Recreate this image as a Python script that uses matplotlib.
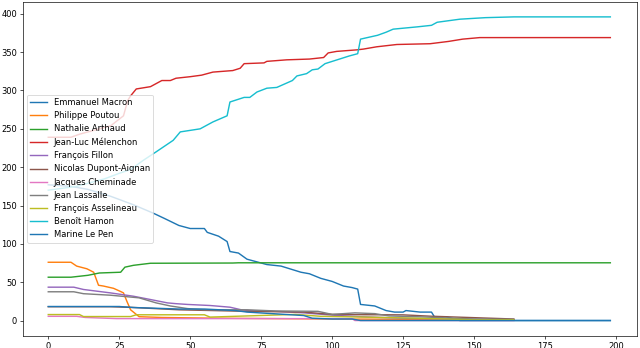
import matplotlib
matplotlib.use("Agg")
import matplotlib.pyplot as plt

# readings taken off the chart: (round, votes) breakpoints for each candidate
macron_x = [0, 8, 14, 22, 30, 37, 41, 46, 50, 55, 56, 60, 63, 64, 67, 70, 73, 77, 82, 89, 92, 96, 100, 104, 107, 109, 110, 115, 119, 122, 125, 126, 131, 135, 136, 140, 145, 198]
macron_y = [177, 175, 171, 162, 151, 140, 133, 124, 120, 120, 115, 110, 103, 90, 88, 80, 77, 73, 71, 63, 61, 55, 51, 45, 43, 41, 21, 19, 13, 11, 11, 13, 11, 11, 5, 5, 0, 0]

poutou_x = [0, 8, 10, 13.6, 16, 17.7, 19.4, 23, 25.4, 26.5, 27.7, 29, 31, 32, 40, 60, 100, 164]
poutou_y = [76, 76, 71, 67.5, 63, 46, 45, 42, 38, 36, 25, 14, 8, 5, 4, 3, 2, 1]

arthaud_x = [0, 8, 14, 18, 25.5, 27, 30, 36, 65, 67, 198]
arthaud_y = [56.5, 56.5, 59, 62, 63, 69.6, 72, 74.7, 75, 75.3, 75.3]

melenchon_x = [0, 8, 11, 16, 22, 26.5, 28, 29, 31, 36, 38, 40, 43, 45, 50, 54, 58, 65, 67.6, 69, 76, 77, 84, 92, 97, 98.6, 101.6, 108.7, 111, 115.7, 122.8, 134.5, 141, 146, 152, 198]
melenchon_y = [239, 239, 243, 248, 254, 267, 287, 293, 302, 305, 309, 313, 313, 316, 318, 320, 324, 326, 329, 335, 336, 338, 340, 341, 343, 349, 351, 353, 354, 357, 360, 361, 364, 367, 369, 369]

fillon_x = [0, 9, 12.4, 22, 30, 36, 42, 45, 49, 57, 64, 68, 71, 80, 90, 100, 110, 125, 140, 164]
fillon_y = [43.5, 43.5, 40.5, 36, 31.7, 27.4, 23, 22, 21, 19.6, 17.4, 14, 13, 12, 10, 7, 5, 3, 2, 1]

dupont_x = [0, 22, 30, 46, 70, 90, 100, 111, 125, 135, 164]
dupont_y = [18, 18, 17, 14, 12, 11, 8, 7.6, 7.4, 5.6, 2]

cheminade_x = [0, 10, 13, 24, 60, 107, 108, 164]
cheminade_y = [5.5, 5.5, 4, 2.5, 2.5, 2.5, 0, 0]

lassalle_x = [0, 9, 12.4, 22, 32, 38, 43, 49, 55, 70, 80, 95, 100, 108, 115, 120, 130, 150, 164]
lassalle_y = [37.5, 37.5, 35, 33, 29.6, 23, 19, 15.6, 14, 14, 12.5, 12, 8, 10, 9, 6, 5, 2, 1.5]

asselineau_x = [0, 11, 12.4, 29, 31, 55, 57, 70, 87, 96, 111, 130, 150, 164]
asselineau_y = [7.8, 7.8, 5.2, 5.2, 7.5, 7.5, 4.5, 6, 8, 5.5, 4.5, 3, 1, 1]

hamon_x = [0, 10, 20, 25, 29, 33.5, 38, 44, 46.5, 53.5, 58, 63, 64, 69, 71, 73.5, 77, 80.5, 86, 87.6, 91, 93, 95, 97.5, 106, 109, 110, 116, 119, 121.5, 130, 135, 137, 145, 154, 164, 198]
hamon_y = [170, 175, 185, 192, 197, 209, 220, 235, 246, 250, 259, 267, 285, 291, 291, 298, 303, 304, 313, 319, 322, 327, 328, 335, 345, 348, 367, 372, 376, 380, 383, 385, 389, 393, 395, 396, 396]

lepen_x = [0, 25, 30, 46, 55, 66, 70, 90, 93, 100, 107, 110, 198]
lepen_y = [18.3, 18.3, 17, 15, 15, 13, 11, 6.5, 3, 2, 2, 0, 0]

series = [
    ("Emmanuel Macron", macron_x, macron_y),
    ("Philippe Poutou", poutou_x, poutou_y),
    ("Nathalie Arthaud", arthaud_x, arthaud_y),
    ("Jean-Luc Mélenchon", melenchon_x, melenchon_y),
    ("François Fillon", fillon_x, fillon_y),
    ("Nicolas Dupont-Aignan", dupont_x, dupont_y),
    ("Jacques Cheminade", cheminade_x, cheminade_y),
    ("Jean Lassalle", lassalle_x, lassalle_y),
    ("François Asselineau", asselineau_x, asselineau_y),
    ("Benoît Hamon", hamon_x, hamon_y),
    ("Marine Le Pen", lepen_x, lepen_y),
]

fig = plt.figure(figsize=(640 / 60, 348 / 60), dpi=60)
ax = fig.add_axes([0.0355, 0.0353, 0.9594, 0.9598])

for name, xs, ys in series:
    ax.plot(xs, ys, label=name, lw=1.7)

ax.set_xlim(-9, 207.3)
ax.legend(loc="center left")

fig.savefig("out.png", dpi=60)
